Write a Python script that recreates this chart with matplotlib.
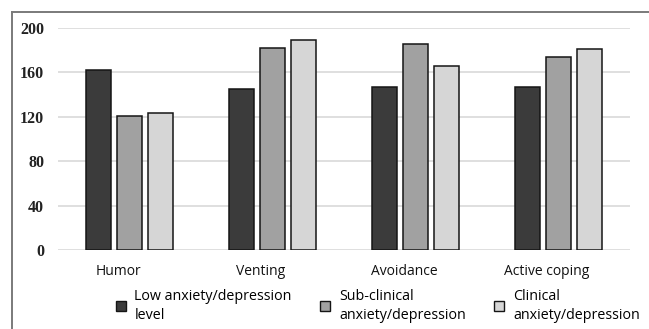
import numpy as np
import matplotlib.pyplot as plt
from matplotlib.patches import Patch
from matplotlib.lines import Line2D

# ----------------------------------------------------------------------
# Data
# ----------------------------------------------------------------------
categories = ["Humor", "Venting", "Avoidance", "Active coping"]
low_level = [162, 145, 147, 147]
sub_clinical = [121, 182, 186, 174]
clinical = [123, 189, 166, 181]
series_labels = ["Low anxiety/depression\nlevel",
                 "Sub-clinical\nanxiety/depression",
                 "Clinical\nanxiety/depression"]
yticks = [0, 40, 80, 120, 160, 200]

COLORS = ["#3b3b3b", "#a1a1a1", "#d6d6d6"]
EDGE = "#151515"

fig = plt.figure(figsize=(6.49, 3.29), dpi=100)
ax = fig.add_axes([0.0894, 0.2401, 0.8814, 0.6748])

x = np.arange(len(categories))
bar_w = 0.175
step = 0.217
for k, (vals, col) in enumerate(zip([low_level, sub_clinical, clinical], COLORS)):
    ax.bar(x + (k - 1) * step, vals, width=bar_w, color=col,
           edgecolor=EDGE, linewidth=1.1, zorder=3)

ax.set_xlim(-0.5, len(categories) - 0.5)
ax.set_ylim(0, 200)
ax.set_yticks(yticks)
ax.set_yticklabels([str(v) for v in yticks], family="Liberation Serif",
                   fontsize=11.5, fontweight="bold", color="#222222")
ax.set_xticks(x - 0.08)
ax.set_xticklabels(categories, family="Open Sans", fontsize=10,
                   color="#111111")
ax.tick_params(axis="both", length=0)
ax.tick_params(axis="x", pad=10)
ax.tick_params(axis="y", pad=10)
ax.grid(axis="y", color="#d9d9d9", linewidth=1.2, zorder=0)
for s in ax.spines.values():
    s.set_visible(False)

handles = [Patch(facecolor=c, edgecolor=EDGE, linewidth=1.0) for c in COLORS]
leg = fig.legend(handles, series_labels, loc="center", ncol=3,
                 bbox_to_anchor=(0.582, 0.07), frameon=False,
                 prop={"family": "Open Sans", "size": 10.3},
                 handlelength=0.7, handleheight=0.7, handletextpad=0.6,
                 columnspacing=2.0, labelspacing=0.2)
for t in leg.get_texts():
    t.set_linespacing(1.35)

# grey frame around the figure (only left/top visible in the reference)
fig.add_artist(Line2D([11.5 / 649, 11.5 / 649], [0, 1 - 12 / 329],
                      transform=fig.transFigure, color="#7a7a7a", lw=1.4))
fig.add_artist(Line2D([11.5 / 649, 1], [1 - 12 / 329, 1 - 12 / 329],
                      transform=fig.transFigure, color="#7a7a7a", lw=1.4))

fig.savefig("out.png", dpi=100)
